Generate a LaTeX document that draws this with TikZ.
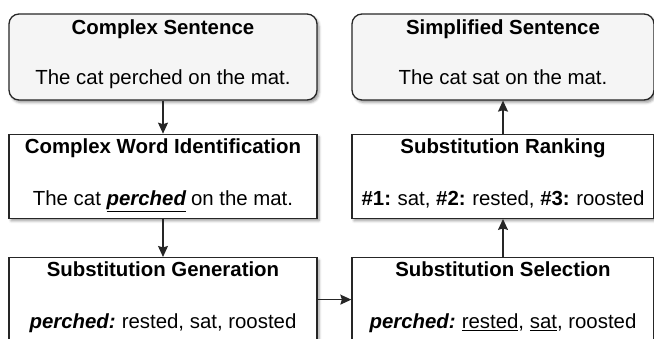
\documentclass[tikz,border=0pt]{standalone}
\usepackage{fontspec}
\setmainfont{Liberation Sans}
\usetikzlibrary{positioning,arrows.meta,shadows.blur}

\begin{document}
\begin{tikzpicture}[x=1pt,y=1pt]
\tikzset{stage/.style={draw=black!85,line width=1.3pt,fill=white,minimum width=308pt,minimum height=84pt,inner sep=0pt,blur shadow={shadow xshift=2pt,shadow yshift=-2.5pt,shadow blur radius=2.5pt,shadow opacity=40}}}
\tikzset{sentence/.style={stage,rounded corners=10pt,fill=black!4,minimum height=86pt}}
\tikzset{heading/.style={font=\fontsize{20.4}{24}\selectfont\bfseries,anchor=base,inner sep=0pt}}
\tikzset{content/.style={font=\fontsize{20.4}{24}\selectfont,anchor=base,inner sep=0pt}}
\tikzset{flow/.style={draw=black!85,line width=1.3pt,-{Stealth[length=11pt,width=10pt,inset=1.5pt]}}}

\useasboundingbox (0,0) rectangle (654,-338);

% left column: input and the first two steps
\node[sentence] (cplx) at (163,-57) {};
\node[stage,below=33pt of cplx] (cwi) {};
\node[stage,below=38pt of cwi] (sg) {};

% right column: last two steps and output
\node[sentence,minimum width=302pt] (simp) at (503,-57) {};
\node[stage,minimum width=302pt,below=33pt of simp] (sr) {};
\node[stage,minimum width=302pt,below=38pt of sr] (ss) {};

\node[heading] (cplxh) at ([yshift=-21pt]cplx.north) {Complex Sentence};
\node[content] (cplxb) at ([yshift=-71pt]cplx.north) {The cat perched on the mat.};

\node[heading] (cwih) at ([yshift=-20pt]cwi.north) {Complex Word Identification};
\node[content] (cwib) at ([yshift=-71.5pt]cwi.north) {The cat \underline{\textbf{\textit{perched}}}\hspace{-1pt} on the mat.};

\node[heading] (sgh) at ([yshift=-20pt]sg.north) {Substitution Generation};
\node[content] (sgb) at ([yshift=-71.5pt]sg.north) {\textbf{\textit{perched:}}\hspace{-1.5pt} rested, sat, roosted};

\node[heading] (ssh) at ([yshift=-20pt]ss.north) {Substitution Selection};
\node[content] (ssb) at ([yshift=-71.5pt]ss.north) {\textbf{\textit{perched:}}\hspace{-1.5pt} \underline{rested}, \underline{sat}, roosted};

\node[heading] (srh) at ([yshift=-20pt]sr.north) {Substitution Ranking};
\node[content] (srb) at ([yshift=-71.5pt]sr.north) {\textbf{\#1:}\hspace{-1pt} sat, \textbf{\#2:}\hspace{-1pt} rested, \textbf{\#3:}\hspace{-1pt} roosted};

\node[heading] (simph) at ([yshift=-21pt]simp.north) {Simplified Sentence};
\node[content] (simpb) at ([yshift=-71pt]simp.north) {The cat sat on the mat.};

% pipeline arrows
\path[flow] (cplx) -- (cwi);
\path[flow] (cwi) -- (sg);
\path[flow] (sg) -- (ss);
\path[flow] (ss) -- (sr);
\path[flow] (sr) -- (simp);
\end{tikzpicture}
\end{document}
